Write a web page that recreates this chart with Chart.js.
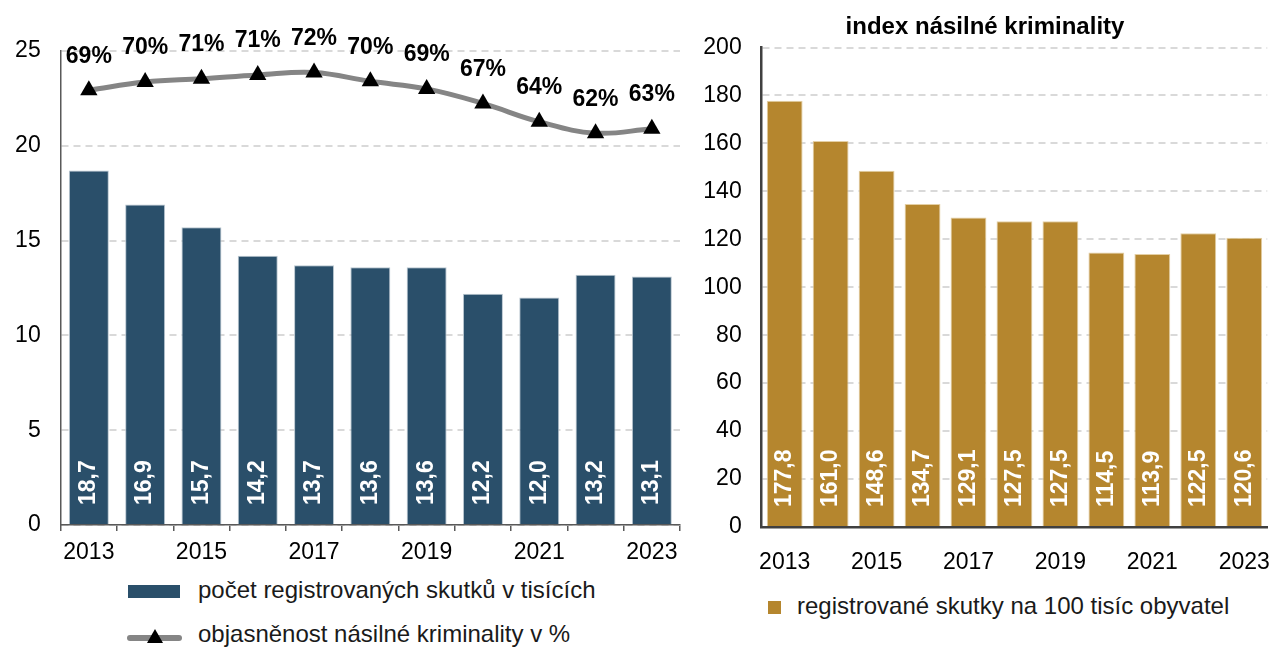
<!DOCTYPE html>
<html>
<head>
<meta charset="utf-8">
<script src="https://cdn.jsdelivr.net/npm/chart.js@4.4.1/dist/chart.umd.min.js"></script>
<style>
  body { margin: 0; background: #fff; width: 1284px; height: 650px; position: relative; overflow: hidden;
         font-family: "Liberation Sans", Arial, sans-serif; }
  canvas { position: absolute; top: 0; }
  #leftChart { left: 0; }
  #rightChart { left: 690px; }
  .lgText { position: absolute; font-size: 24px; line-height: 28px; color: #1a1a1a; white-space: nowrap; }
  .box { position: absolute; }
</style>
</head>
<body>
<canvas id="leftChart" width="690" height="570"></canvas>
<canvas id="rightChart" width="594" height="570"></canvas>

<div class="box" style="left:128px;top:585px;width:52px;height:13px;background:#2a4f6a"></div>
<div class="lgText" style="left:198px;top:576px">počet registrovaných skutků v tisících</div>

<div class="box" style="left:127px;top:635px;width:55px;height:6px;background:#858585;border-radius:3px"></div>
<div class="box" style="left:147px;top:629px;width:0;height:0;border-left:8px solid transparent;border-right:8px solid transparent;border-bottom:14px solid #000"></div>
<div class="lgText" style="left:198px;top:620px">objasněnost násilné kriminality v %</div>

<div class="box" style="left:768px;top:601px;width:13px;height:13px;background:#b5862e"></div>
<div class="lgText" style="left:797px;top:592px">registrované skutky na 100 tisíc obyvatel</div>

<script>
const years = ['2013','2014','2015','2016','2017','2018','2019','2020','2021','2022','2023'];
const skutky = [18.7, 16.9, 15.7, 14.2, 13.7, 13.6, 13.6, 12.2, 12.0, 13.2, 13.1];
const objasnenost = [68.8, 70.1, 70.6, 71.2, 71.6, 70.2, 69.0, 66.7, 63.8, 62.0, 62.7];
const indexKrim = [177.8, 161.0, 148.6, 134.7, 129.1, 127.5, 127.5, 114.5, 113.9, 122.5, 120.6];

const FONT = '"Liberation Sans", Arial, sans-serif';
Chart.defaults.font.family = FONT;
Chart.defaults.color = '#000';

// labels inside bars (rotated) and percent labels above the line
const valueLabels = {
  id: 'valueLabels',
  afterDatasetsDraw(chart) {
    const ctx = chart.ctx;
    chart.data.datasets.forEach((ds, i) => {
      const meta = chart.getDatasetMeta(i);
      meta.data.forEach((el, j) => {
        const v = ds.data[j];
        ctx.save();
        if (ds.type === 'line') {
          ctx.font = 'bold 23px ' + FONT;
          ctx.fillStyle = '#000';
          ctx.textAlign = 'center';
          ctx.textBaseline = 'middle';
          ctx.fillText(Math.round(v) + '%', el.x, el.y - 34);
        } else {
          ctx.translate(el.x, el.base - 19);
          ctx.rotate(-Math.PI / 2);
          ctx.font = 'bold 23px ' + FONT;
          ctx.fillStyle = '#fff';
          ctx.textAlign = 'left';
          ctx.textBaseline = 'middle';
          ctx.fillText(v.toFixed(1).replace('.', ','), 0, 0);
        }
        ctx.restore();
      });
    });
  }
};

const gridDash = { color: '#d9d9d9', lineWidth: 2, drawTicks: false };

new Chart(document.getElementById('leftChart'), {
  data: {
    labels: years,
    datasets: [
      {
        type: 'line',
        label: 'objasněnost násilné kriminality v %',
        data: objasnenost,
        yAxisID: 'y1',
        borderColor: '#858585',
        borderWidth: 5,
        tension: 0.4,
        pointStyle: 'triangle',
        pointRadius: 10,
        pointBackgroundColor: '#000',
        pointBorderWidth: 0,
        clip: false,
        order: 0
      },
      {
        type: 'bar',
        label: 'počet registrovaných skutků v tisících',
        data: skutky,
        yAxisID: 'y',
        backgroundColor: '#2a4f6a',
        borderColor: '#b9c6d0',
        borderWidth: 1,
        categoryPercentage: 0.71,
        barPercentage: 1,
        order: 1
      }
    ]
  },
  options: {
    responsive: false,
    animation: false,
    layout: { padding: { top: 51, right: 5.5, left: 0, bottom: 0 } },
    plugins: { legend: { display: false }, tooltip: { enabled: false } },
    scales: {
      x: {
        grid: { offset: true, drawOnChartArea: false, drawTicks: true, tickLength: 6, color: '#595959', lineWidth: 1.5 },
        border: { color: '#595959', width: 1.5 },
        ticks: {
          font: { size: 23 }, padding: 8, autoSkip: false, maxRotation: 0,
          callback: (v, i) => (i % 2 === 0 ? years[i] : '')
        },
        afterFit: s => { s.height = 45; }
      },
      y: {
        min: 0, max: 25,
        ticks: { stepSize: 5, font: { size: 23 }, padding: 20 },
        grid: { ...gridDash },
        border: { color: '#595959', width: 1.5, dash: [7, 5] },
        afterFit: s => { s.width = 60.7; }
      },
      y1: { display: false, min: 0, max: 75 }
    }
  },
  plugins: [valueLabels]
});

new Chart(document.getElementById('rightChart'), {
  type: 'bar',
  data: {
    labels: years,
    datasets: [{
      type: 'bar',
      label: 'registrované skutky na 100 tisíc obyvatel',
      data: indexKrim,
      backgroundColor: '#b5862e',
      borderColor: '#e4cfa4',
      borderWidth: 1,
      categoryPercentage: 0.78,
      barPercentage: 1
    }]
  },
  options: {
    responsive: false,
    animation: false,
    layout: { padding: { top: 0, right: 4, left: 0, bottom: 0 } },
    plugins: {
      legend: { display: false },
      tooltip: { enabled: false },
      title: {
        display: true,
        text: 'index násilné kriminality',
        color: '#000',
        font: { size: 24, weight: 'bold', lineHeight: 1.2 },
        padding: { top: 13, bottom: 5.7 }
      }
    },
    scales: {
      x: {
        grid: { display: false },
        border: { color: '#404040', width: 2.5 },
        ticks: { font: { size: 23 }, padding: 14, autoSkip: false, maxRotation: 0,
          callback: (v, i) => (i % 2 === 0 ? years[i] : '') },
        afterFit: s => { s.height = 43; }
      },
      y: {
        min: 0, max: 200,
        ticks: { stepSize: 20, font: { size: 23 }, padding: 20 },
        grid: { ...gridDash },
        border: { color: '#404040', width: 2.5, dash: [7, 5] },
        afterFit: s => { s.width = 71.7; }
      }
    }
  },
  plugins: [valueLabels]
});
</script>
</body>
</html>
